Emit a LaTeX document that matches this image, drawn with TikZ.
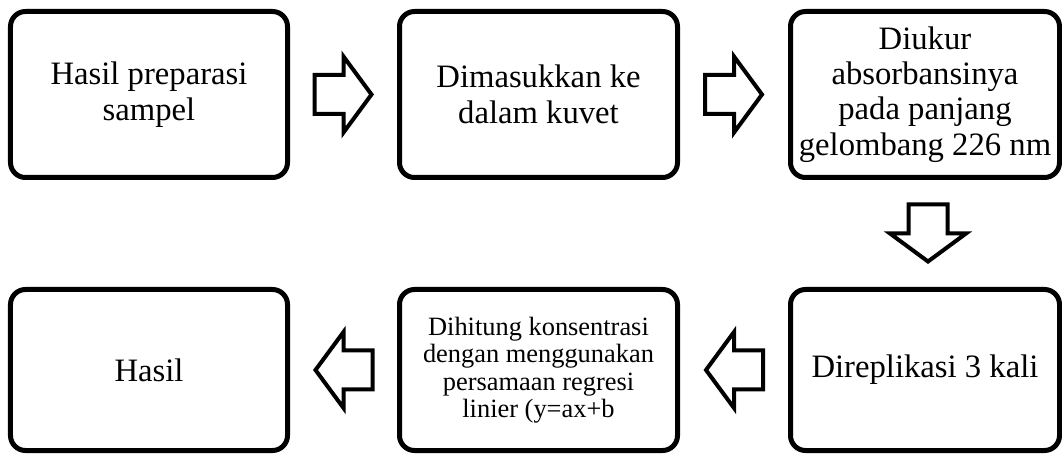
\documentclass[tikz,border=0pt]{standalone}
\usepackage{fontspec}
\setmainfont{Liberation Serif}
\usetikzlibrary{calc}
\begin{document}
\begin{tikzpicture}[x=1bp,y=-1bp,
  stepbox/.style={draw=black, line width=5bp, rounded corners=15bp, fill=white,
    align=center, inner sep=0pt, font=\fontsize{32.8}{35.5}\selectfont},
  smalltext/.style={font=\fontsize{26.5}{27.5}\selectfont},
  blockarrow/.style={draw=black, line width=4bp, miter limit=10, fill=white}]
% canvas
\useasboundingbox (0,0) rectangle (1062,455);
% top row
\node[stepbox, minimum width=277bp, minimum height=166bp] (prep) at (149,94.5)
  {Hasil preparasi\\sampel};
\node[stepbox, minimum width=278bp, minimum height=166bp] (kuvet) at (538.5,94.5)
  {Dimasukkan ke\\dalam kuvet};
\node[stepbox, minimum width=269bp, minimum height=166bp] (ukur) at (925,94.5)
  {Diukur\\absorbansinya\\pada panjang\\gelombang 226 nm};
% bottom row
\node[stepbox, minimum width=277bp, minimum height=161bp] (hasil) at (149,370)
  {Hasil};
\node[stepbox, smalltext, minimum width=278bp, minimum height=161bp] (hitung) at (538.5,370)
  {Dihitung konsentrasi\\dengan menggunakan\\persamaan regresi\\linier (y=ax+b};
\node[stepbox, minimum width=269bp, minimum height=161bp] (replika) at (925,370)
  {Direplikasi 3 kali};
% block arrows between the steps
\newcommand\flowarrow[3]{%
  \begin{scope}[shift={($(#1)!0.5!(#2)$)}, rotate=#3]
    \draw[blockarrow] (-29,-19.5) -- (0,-19.5) -- (0,-38) -- (28,0)
      -- (0,38) -- (0,19.5) -- (-29,19.5) -- cycle;
  \end{scope}}
\flowarrow{prep.east}{kuvet.west}{0}
\flowarrow{kuvet.east}{ukur.west}{0}
\flowarrow{$(ukur.south)+(3,0)$}{$(replika.north)+(3,0)$}{-90}
\flowarrow{replika.west}{hitung.east}{180}
\flowarrow{hitung.west}{hasil.east}{180}
\end{tikzpicture}
\end{document}
